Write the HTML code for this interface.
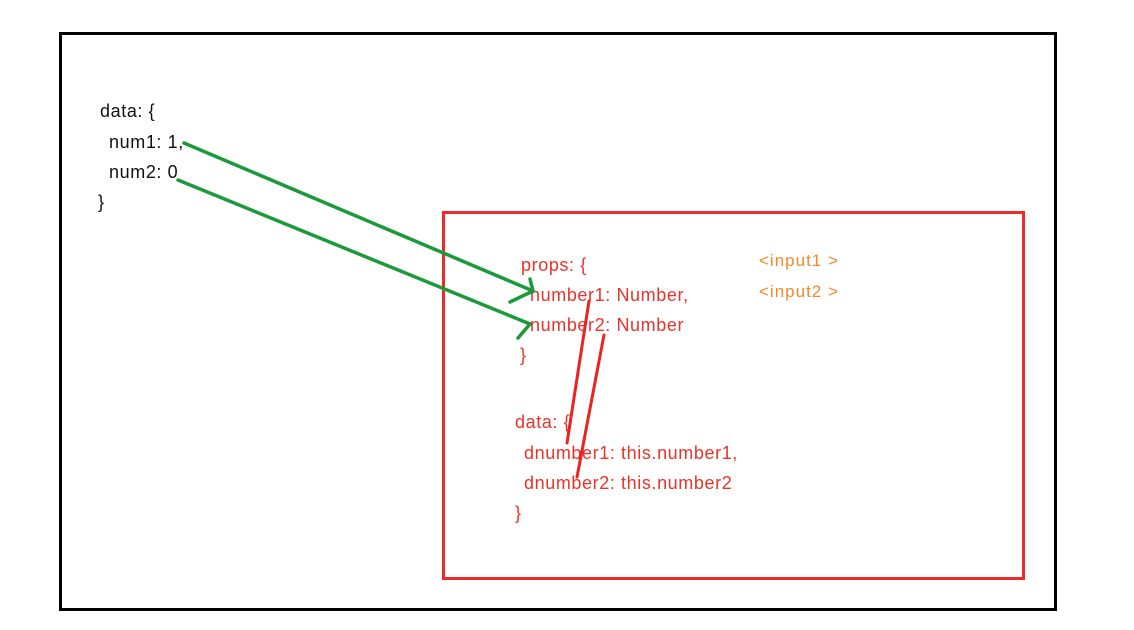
<!DOCTYPE html>
<html><head><style>
body{margin:0;width:1134px;height:630px;background:#fff;position:relative;overflow:hidden;font-family:"Liberation Sans",sans-serif;}
.t{position:absolute;font-size:18px;letter-spacing:0.6px;line-height:18px;white-space:nowrap;}
.k{color:#111}.r{color:#e8332a}.o{color:#f08a2a;font-size:17px;letter-spacing:1px}
</style></head><body>
<div style="position:absolute;left:59px;top:32px;width:998px;height:579px;border:3px solid #000;box-sizing:border-box"></div>
<div style="position:absolute;left:442px;top:211px;width:583px;height:369px;border:3px solid #ee2b2b;box-sizing:border-box"></div>
<div class="t k" style="left:100px;top:102px">data: {</div>
<div class="t k" style="left:109px;top:133px">num1: 1,</div>
<div class="t k" style="left:109px;top:163px">num2: 0</div>
<div class="t k" style="left:98px;top:193px">}</div>
<div class="t r" style="left:521px;top:256px">props: {</div>
<div class="t r" style="left:530px;top:286px">number1: Number,</div>
<div class="t r" style="left:530px;top:316px">number2: Number</div>
<div class="t r" style="left:520px;top:346px">}</div>
<div class="t r" style="left:515px;top:413px">data: {</div>
<div class="t r" style="left:524px;top:444px">dnumber1: this.number1,</div>
<div class="t r" style="left:524px;top:474px">dnumber2: this.number2</div>
<div class="t r" style="left:515px;top:504px">}</div>
<div class="t o" style="left:759px;top:252px">&lt;input1 &gt;</div>
<div class="t o" style="left:759px;top:283px">&lt;input2 &gt;</div>
<svg width="1134" height="630" style="position:absolute;left:0;top:0">
<g stroke="#1a9a3a" stroke-width="3.5" fill="none" stroke-linecap="round">
<line x1="184" y1="143" x2="533" y2="291"/>
<polyline points="530,279 533,291 510,302"/>
<line x1="178" y1="180" x2="530" y2="324"/>
<polyline points="518,338 530,324"/>
</g>
<g stroke="#ee2020" stroke-width="3" stroke-linecap="round">
<line x1="589" y1="301" x2="567" y2="443"/>
<line x1="604" y1="335" x2="577" y2="477"/>
</g>
</svg>
</body></html>
